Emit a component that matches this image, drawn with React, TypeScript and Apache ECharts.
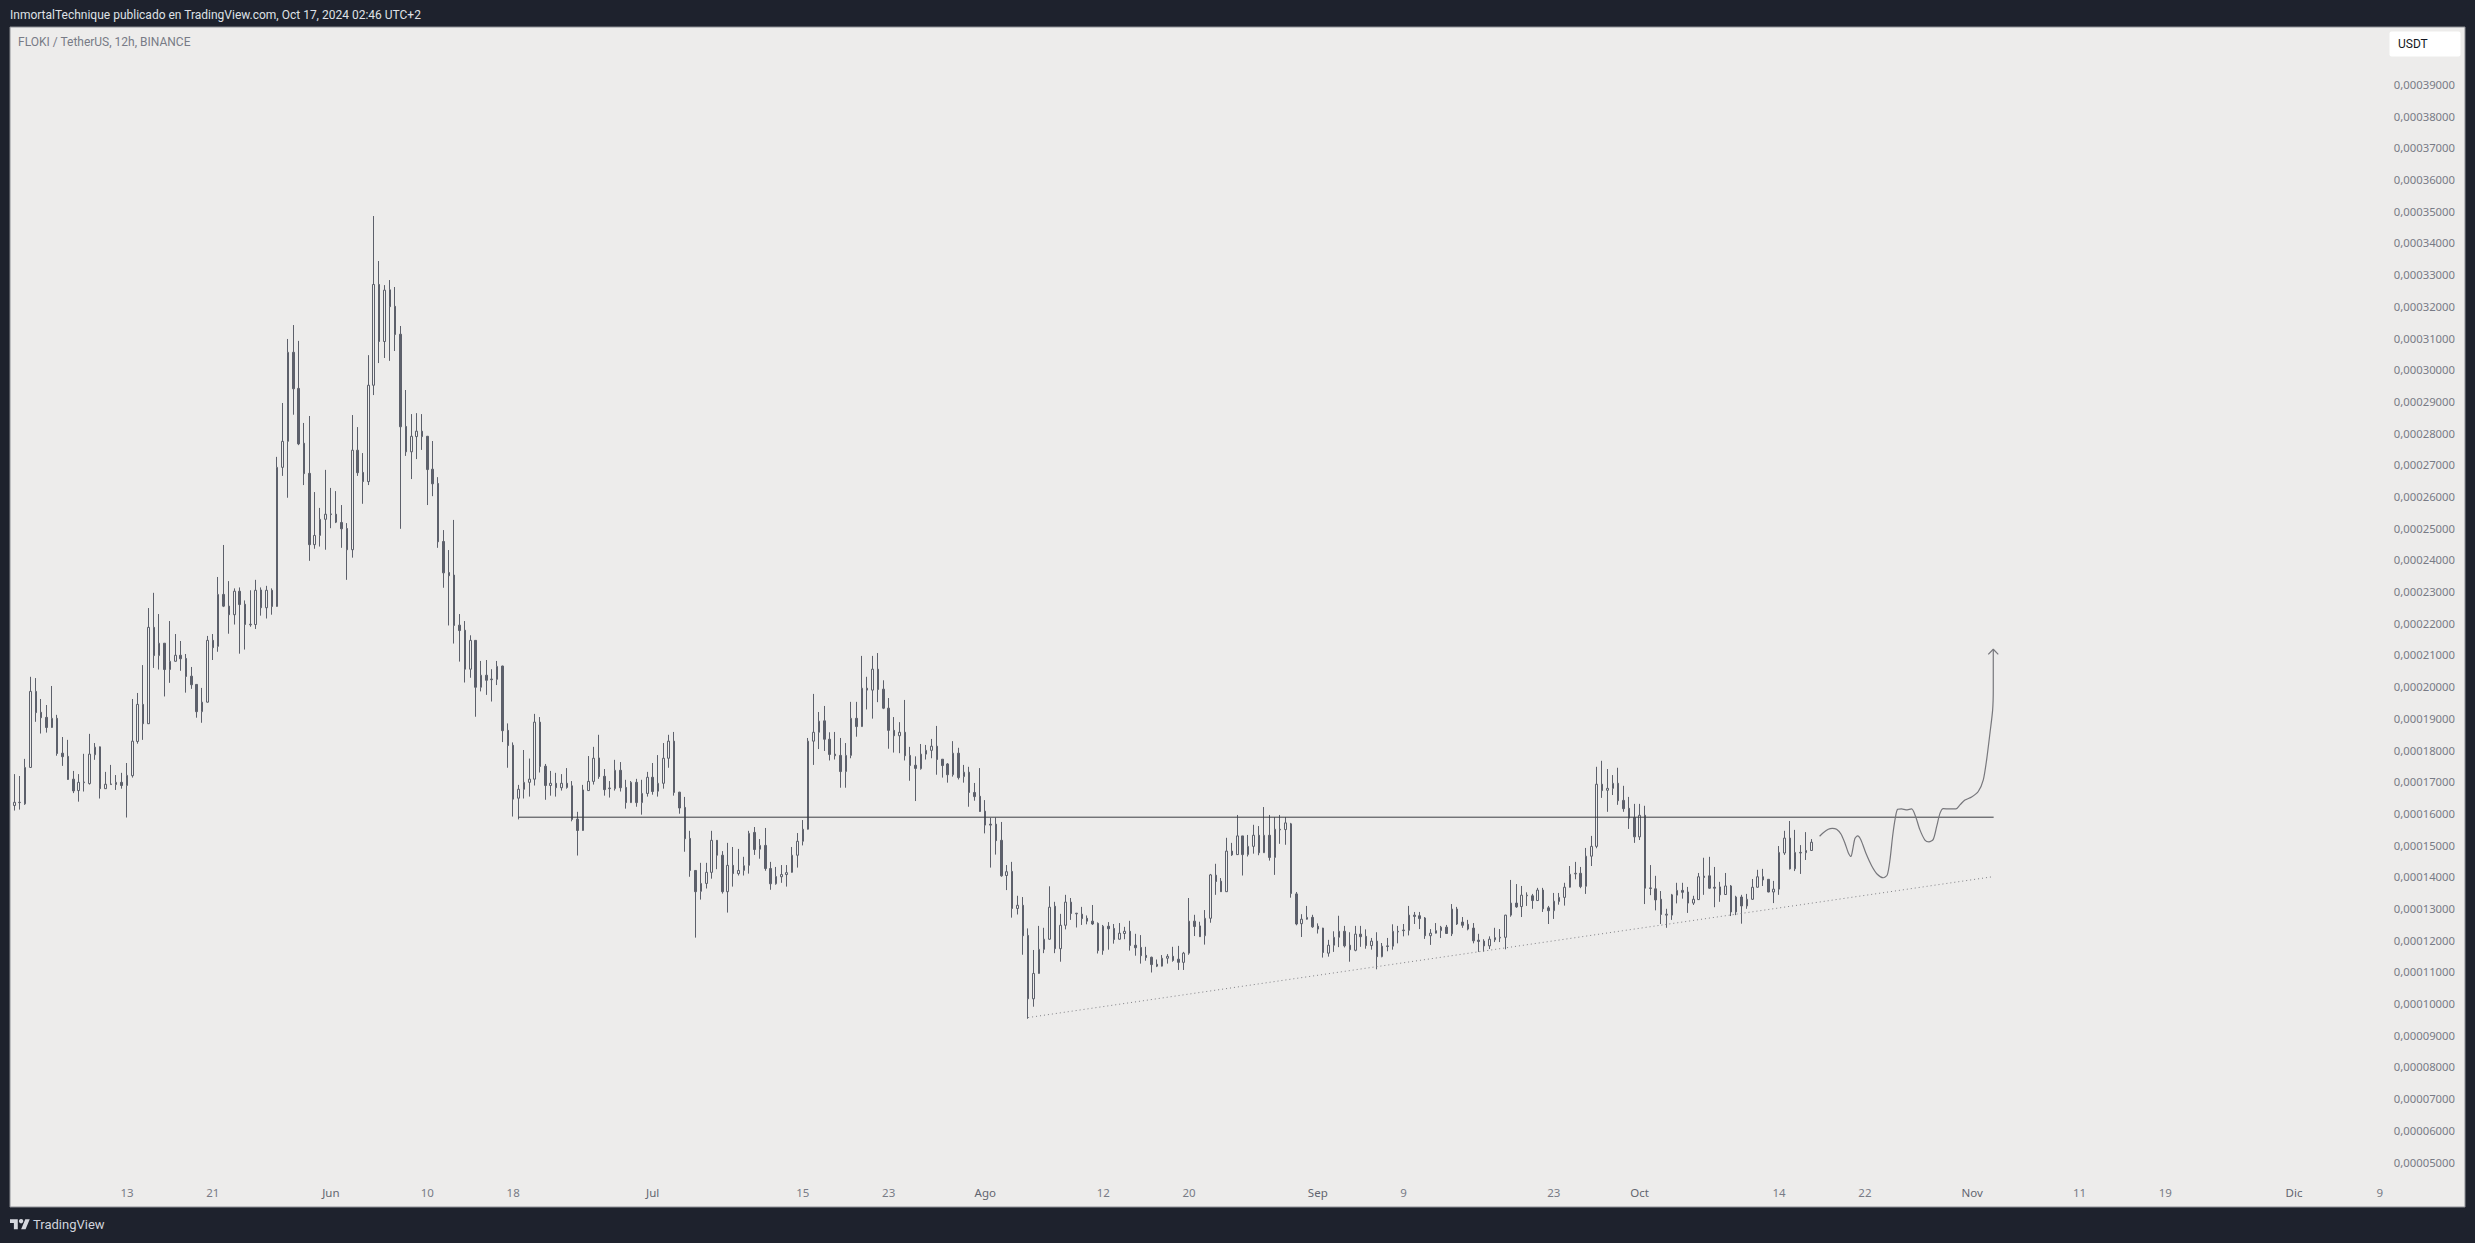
import React, { useEffect, useRef } from "react";
import * as echarts from "echarts";

// Prices are expressed in units of 0.00000001 USDT.
const highs = [
  17240,17180,17720,20310,20270,19610,19420,20020,19110,18410,
  18320,17340,17240,17880,18510,18220,18110,17310,17530,17210,
  17280,17590,19610,19800,20680,22480,22960,22290,21370,22070,
  21660,21440,21030,20620,20080,19960,21600,21660,23460,24470,
  23330,23100,23130,22720,23040,23370,23130,23180,23100,27250,
  28950,30970,31410,30910,28320,28540,26140,25640,26840,26270,
  26170,25730,25160,28570,28190,27370,30460,34850,33430,32670,
  32830,32610,31380,29360,28600,28630,28600,27910,27750,26610,
  24940,24310,25260,22290,22070,21620,21470,20810,20840,20550,
  20810,20660,18840,18240,16900,18000,17730,19140,19040,17560,
  17340,17280,17240,17430,17020,16050,16900,17810,18100,18480,
  17400,17020,17690,17620,17060,17020,17090,17060,17310,17590,
  17840,18220,18480,18570,16680,16520,15450,14210,14440,14440,
  15450,15160,14810,15070,14940,14880,14630,15450,15570,15190,
  15540,14470,14310,14370,14370,14940,15380,15790,18380,19770,
  19200,19390,18560,18570,18380,18220,19520,19520,20970,20310,
  20970,21060,20200,19640,19040,18880,19580,18100,17800,18190,
  18160,18350,18760,17710,17590,18280,18070,17530,17470,16960,
  17430,16420,15860,15870,15730,14370,14470,13400,13360,12370,
  11690,12450,12390,13700,13210,12830,13430,13330,12860,13050,
  12780,13110,12560,12480,12570,12510,12540,12420,12610,12200,
  12160,11790,11480,11390,11530,11560,11790,11820,11630,13330,
  12800,12580,12950,14090,14410,13960,15230,15070,15950,15290,
  15320,15640,15600,16200,15950,15880,15950,15880,15700,13520,
  12820,13080,12800,12530,12390,12010,12280,12770,12450,12250,
  12450,12450,12340,12070,12250,11910,12070,12500,12450,12510,
  13080,12890,12890,12730,12350,12540,12450,12480,13140,13050,
  12730,12640,12540,12200,12030,12120,12390,12350,12800,13900,
  13770,13710,13510,13460,13650,13650,13080,13490,13490,13810,
  14340,14470,14310,14910,15290,17470,17660,17400,17210,17440,
  16870,16520,16300,16300,16240,14370,14030,13550,12990,13460,
  13810,13810,13680,13400,14120,14600,14630,14310,13840,14120,
  13740,13400,13430,13460,13930,14220,14250,13930,13870,14970,
  15450,15760,15480,15000,15410,15190,
];

const bodyTops = [
  16350,16350,17450,19850,19850,19190,19030,19000,19000,17900,
  17800,17080,16980,16990,17870,18090,18100,16920,16930,16980,
  16980,17200,18280,19440,19440,21870,21870,21370,21370,20800,
  20990,20990,20890,20330,20070,19510,21460,21460,22910,22910,
  22540,23010,23010,22600,21970,23040,23050,23040,23040,26920,
  27740,30550,30550,29410,27680,26730,24770,25280,25440,25450,
  25440,25180,24990,27460,27460,26760,29510,32690,32690,32510,
  32520,32000,31120,28210,27900,28060,28060,27900,26860,26410,
  24580,23600,23520,21940,21780,21460,21460,20360,20360,20240,
  20640,20650,18620,18150,16760,16980,17080,18880,18880,17490,
  16950,16950,16950,16950,16870,15820,16740,17010,17740,17750,
  17170,16800,17360,17360,16820,16980,16980,16630,17140,17140,
  16950,17740,18280,18280,16670,16190,15210,14200,13790,14140,
  15150,15150,14680,14360,14360,14200,14350,15370,15400,14990,
  14990,14260,14010,14070,14130,14680,15120,15500,18280,18560,
  18910,18920,18340,17870,17830,17830,19000,19000,19950,19950,
  20550,20550,19920,19320,18620,18560,18560,17830,17520,17870,
  17990,18120,18120,17710,17560,17900,17900,17300,17300,16660,
  16540,16070,15660,15660,15150,14160,14170,13100,13100,12150,
  10950,11710,12030,13040,13070,12470,13200,13200,12850,12820,
  12690,12600,12530,12440,12440,12370,12220,12280,12280,11840,
  11770,11520,11460,11240,11430,11490,11490,11400,11590,12600,
  12600,12450,12690,14060,14050,13860,14810,14810,15290,15290,
  14960,15310,15310,15310,15310,15500,15500,15700,15670,13460,
  12660,12720,12720,12440,12380,11840,12090,12280,12280,11840,
  12190,12190,12120,11970,11970,11810,11820,12280,12280,12320,
  12790,12790,12770,12700,12220,12300,12410,12410,12980,12980,
  12570,12500,12380,12000,11970,12030,12080,12090,12790,13170,
  13170,13420,13420,13400,13580,13580,13020,13230,13350,13670,
  14080,14110,14110,14650,14960,16920,16920,16790,16950,16950,
  16410,16160,15870,15940,15940,13650,13620,13290,12820,13430,
  13570,13570,13520,13290,14000,14020,14030,13670,13680,13710,
  13710,13360,13360,13290,13670,14000,14000,13920,13610,14770,
  15220,15220,14770,14770,14830,15090,
];

const bodyBottoms = [
  16250,16340,16300,17450,19180,19020,18710,18710,17890,17790,
  17070,16710,16720,16970,16940,17850,16780,16780,16910,16910,
  16880,16880,17190,18270,18830,18830,20980,20980,20540,20540,
  20800,20880,20320,20060,19210,19210,19510,21230,21270,22540,
  22270,22270,22590,21960,21950,21960,22490,22490,22530,22530,
  26920,27740,29400,27660,26720,24480,24480,24770,25280,25430,
  25190,24980,24320,24320,26750,26470,26470,29510,30890,30890,
  31990,31110,28200,27410,27410,27890,27890,26850,26400,24570,
  23590,23500,21930,21770,20550,20550,19980,19980,20200,20220,
  20230,18610,18140,16450,16480,16760,16980,17080,17480,16880,
  16880,16810,16810,16820,15810,15460,15460,16720,17010,17160,
  16750,16780,16780,16810,16340,16340,16340,16340,16630,16690,
  16700,16950,17740,16660,16170,15200,14200,13530,13540,13790,
  14140,14680,13530,13530,14100,14100,14200,14360,14860,14870,
  14260,13780,13780,14000,14070,14140,14680,15120,15500,18280,
  18560,18340,17860,17820,17320,17320,17830,18740,18740,19890,
  19890,19910,19320,18620,18450,18450,17820,17510,17420,17410,
  17870,17990,17700,17510,17220,17220,17130,17160,16660,16530,
  16060,15630,15630,15140,14030,14040,13000,13000,12140,10150,
  10150,10950,11710,12030,11730,11730,12470,12840,12830,12680,
  12600,12510,11670,11670,12360,12020,12030,12210,11830,11760,
  11510,11450,11230,11180,11180,11430,11360,11300,11300,11590,
  12430,12110,12140,12690,13850,13530,13530,14690,14700,14700,
  14700,14960,14760,14760,14610,14610,15480,15490,13470,12510,
  12520,12660,12420,12350,11610,11590,11840,12090,11820,11700,
  11680,12110,11830,11830,11480,11480,11800,11810,12260,12300,
  12310,12750,12680,12140,12140,12220,12300,12210,12200,12510,
  12470,12350,11980,11960,11820,11820,12010,12070,12090,12790,
  13050,13060,13400,13250,13250,12990,12930,12930,13220,13350,
  13670,14090,13690,13700,14650,14960,16720,16730,16790,16400,
  16150,15850,15260,15260,13640,13630,13270,12810,12790,12790,
  13420,13510,13170,13170,13280,13980,13640,13640,13430,13440,
  12890,12890,13080,13080,13290,13670,13900,13520,13520,13610,
  14750,14250,14250,14750,14760,14830,
];

const lows = [
  16090,16120,16270,17440,18890,18520,18550,18700,17820,17500,
  17060,16640,16370,16690,16910,17690,16470,16770,16910,16740,
  16780,15870,17130,18200,18320,18820,20590,20540,19690,20120,
  20790,20500,19810,19930,19020,18860,19500,20840,21100,22510,
  21670,21960,21040,21170,21890,21820,22240,22150,22270,22520,
  26650,25960,28580,27620,26360,23970,24350,24420,24320,25000,
  25160,24380,23370,24070,26650,25770,26360,29200,30210,30370,
  30280,30590,24980,27280,26550,27180,27470,25730,26010,24380,
  23120,21930,21360,20790,20130,20280,19050,19850,19740,19530,
  20050,18250,17440,15900,15810,16470,16530,16880,17290,16430,
  16560,16530,16720,16780,15750,14670,15450,16710,16910,17090,
  16560,16500,16720,16690,16150,16330,16210,15960,16530,16590,
  16530,16780,17440,16560,15990,14790,14000,12080,13280,13630,
  13940,14240,13470,12870,13690,14040,14040,14100,14690,14570,
  14190,13590,13750,13810,13690,14130,14290,14990,15490,17530,
  18030,17970,17670,17700,16810,16810,17740,18420,18730,19280,
  18990,19510,19290,18040,17920,17900,17670,17030,16390,17380,
  17700,17740,17220,17130,16970,17160,17070,16970,16210,16400,
  16050,15370,14290,14700,14000,13580,12710,12810,11540,9520,
  9900,10940,11590,12010,11590,11320,12340,12640,12400,12480,
  12500,12480,11580,11540,11700,11890,12020,12030,11670,11510,
  11260,11350,10980,11150,11170,11260,11320,11060,11060,11540,
  12130,12100,11860,12550,13430,13520,13520,14660,14690,14040,
  14640,14730,14680,14750,14510,14060,15040,15010,13340,12470,
  12100,12650,12390,12210,11450,11480,11630,11780,11770,11320,
  11650,11790,11730,11700,11080,11460,11650,11700,11900,12120,
  12150,12510,12350,12040,11850,12210,12070,12200,12130,12480,
  12390,12310,11900,11630,11640,11720,11940,11940,11710,12740,
  13020,12730,13080,12990,13240,12890,12510,12670,13120,13090,
  13660,13920,13640,13460,14340,14900,16490,16050,16580,16270,
  16050,15510,15070,15160,13140,13420,12940,12510,12390,12640,
  13160,13310,12860,13110,13270,13430,13620,13040,13210,13430,
  12760,12790,12520,12990,13270,13660,13710,13510,13170,13430,
  14690,14230,14180,14090,14530,14820,
];

// U = rising (hollow) candle, D = falling (filled) candle.
const candleDirections = [
  "UUUUDDDUDD","DDUUUUDUUU","DUUUDUDUDU","UDDDDUUDUD","DUDDUUDUDU",
  "UUDDDDUUUU","DDDUDDUUDU","DDDDUUDDDD","DDDDDUDUDU","UDDDUUUUDD",
  "UDUDDDUUUD","DUUDDUDUUD","UUUDDDDDUU","UDDUDUUUDU","DDUUUUUUUU",
  "UDDDDUUDUD","UDDDDUDDDU","UUDDDUDUDD","DDDDDUDUDD","UUUUDUUDUD",
  "DDDUDDUUDD","DDDDUUDDUU","DDUUDDUDUD","UUDUDUUUDD","UUDDDUUUDD",
  "UDDUDUUUUU","UDDDUUUDUD","DDDDDUUUUU","DUUDUDDUUU","UUDUUUDUUD",
  "DDDUDUDDUU","UDDUUDDDDU","DUDUUUDDUU","UDUUUU",
];

const forecastBarIndex = [
  336.55,337.24,338.17,338.92,339.72,340.53,341.28,341.9,342.4,342.71,343.14,343.64,344.26,345.19,346.25,
  347.3,348.42,349.17,349.67,350.16,350.66,351.1,351.84,352.65,353.71,354.45,355.26,356.19,356.94,357.74,
  358.37,358.99,359.61,360.85,361.97,362.72,363.65,364.89,366.13,367.07,367.69,368.31,368.81,368.93,368.93,
];
const forecastPrice = [
  15280,15390,15500,15530,15500,15350,15060,14760,14640,14850,15210,15290,15160,14740,14350,
  14080,13970,14060,14530,15270,15850,16130,16140,16110,16140,15900,15480,15160,15100,15180,
  15580,16000,16150,16140,16140,16270,16420,16520,16690,17060,17690,18530,19260,19900,21160,
];
const arrowBarIndex = [368.0, 368.93, 369.86];
const arrowPrice = [21020, 21180, 21020];

const resistanceBarIndex = [94, 369];
const resistancePrice = [15880, 15880];
const supportBarIndex = [189, 369];
const supportPrice = [9558, 14006];

const tickDays = [
  "2024-05-13","2024-05-21","2024-06-01","2024-06-10","2024-06-18","2024-07-01","2024-07-15","2024-07-23",
  "2024-08-01","2024-08-12","2024-08-20","2024-09-01","2024-09-09","2024-09-23","2024-10-01","2024-10-14",
  "2024-10-22","2024-11-01","2024-11-11","2024-11-19","2024-12-01","2024-12-09",
];
const tickLabels = [
  "13","21","Jun","10","18","Jul","15","23","Ago","12","20","Sep","9","23","Oct","14","22","Nov","11","19","Dic","9",
];
const monthLabels = ["Jun","Jul","Ago","Sep","Oct","Nov","Dic"];

const TITLE = "InmortalTechnique publicado en TradingView.com, Oct 17, 2024 02:46 UTC+2";
const LEGEND = "FLOKI / TetherUS, 12h, BINANCE";

const TOTAL_BARS = 457;
const BAR_STEP = 5.364;
const GRID_LEFT = 11.65;
const CANDLE = "#5d606b";
const PANEL = "#edeceb";
const DARK = "#1e222d";
const AXIS_TEXT = "#787b86";
const FONT = "Roboto";
const AXIS_FONT = "'Noto Sans'";

const makeCategories = () => {
  const out: string[] = [];
  const start = Date.UTC(2024, 4, 2, 12);
  for (let i = 0; i < TOTAL_BARS; i++) {
    out.push(new Date(start + i * 43200000).toISOString().slice(0, 13));
  }
  return out;
};

const directions = candleDirections.join("");

export default function App() {
  const ref = useRef<HTMLDivElement>(null);
  useEffect(() => {
    if (!ref.current) return;
    echarts.graphic.registerShape(
      "tvLogo",
      echarts.graphic.extendPath("M14 22H7V11H0V4h14v18zM28 22h-8l7.5-18h8L28 22z", {}) as any
    );
    const chart = echarts.init(ref.current, undefined, { renderer: "svg" });
    const categories = makeCategories();
    const tickMap = new Map<string, string>();
    tickDays.forEach((d, i) => tickMap.set(d + "T00", tickLabels[i]));
    const candles = highs.map((h, i) =>
      directions[i] === "D"
        ? [bodyTops[i], bodyBottoms[i], lows[i], h]
        : [bodyBottoms[i], bodyTops[i], lows[i], h]
    );
    const pairs = (xs: number[], ys: number[]) => xs.map((x, i) => [x, ys[i]]);
    const overlay = (data: number[][], color: string, width: number, type: any, smooth = false) => ({
      type: "line",
      xAxisIndex: 1,
      yAxisIndex: 0,
      data,
      smooth: smooth ? 0.25 : false,
      symbol: "none",
      silent: true,
      z: 5,
      lineStyle: { color, width, type },
    });
    chart.setOption({
      animation: false,
      backgroundColor: DARK,
      textStyle: { fontFamily: FONT },
      tooltip: { show: false },
      grid: { left: GRID_LEFT, top: 84.5, width: TOTAL_BARS * BAR_STEP, height: 1077.5, containLabel: false },
      xAxis: [
        {
          type: "category",
          data: categories,
          boundaryGap: true,
          axisLine: { show: false },
          axisTick: { show: false },
          splitLine: { show: false },
          axisLabel: {
            interval: (_: number, v: string) => tickMap.has(v),
            formatter: (v: string) => {
              const t = tickMap.get(v) ?? "";
              return monthLabels.includes(t) ? `{m|${t}}` : t;
            },
            color: AXIS_TEXT,
            fontFamily: AXIS_FONT,
            fontSize: 11.5,
            margin: 24,
            rich: { m: { color: "#62656f", fontFamily: AXIS_FONT, fontSize: 11.5 } },
          },
        },
        { type: "value", min: -0.5, max: TOTAL_BARS - 0.5, show: false },
      ],
      yAxis: {
        type: "value",
        min: 5000,
        max: 39000,
        interval: 1000,
        position: "right",
        scale: true,
        axisLine: { show: false },
        axisTick: { show: false },
        splitLine: { show: false },
        axisLabel: {
          inside: true,
          margin: 8,
          color: AXIS_TEXT,
          fontFamily: AXIS_FONT,
          fontSize: 11.3,
          formatter: (v: number) => (v / 1e8).toFixed(8).replace(".", ","),
        },
      },
      series: [
        {
          type: "candlestick",
          xAxisIndex: 0,
          yAxisIndex: 0,
          data: candles,
          barWidth: 2,
          large: false,
          silent: true,
          z: 3,
          itemStyle: {
            color: PANEL,
            color0: CANDLE,
            borderColor: CANDLE,
            borderColor0: CANDLE,
            borderColorDoji: CANDLE,
            borderWidth: 1,
          },
        },
        overlay(pairs(resistanceBarIndex, resistancePrice), "#3c3d43", 1, "solid"),
        overlay(pairs(supportBarIndex, supportPrice), "#808085", 1, [1, 3]),
        overlay(pairs(forecastBarIndex, forecastPrice), "#77777c", 1.2, "solid", true),
        overlay(pairs(arrowBarIndex, arrowPrice), "#77777c", 1.2, "solid"),
      ],
      graphic: [
        { type: "rect", z: -1, silent: true, shape: { x: 10, y: 27, width: 2455, height: 1180 }, style: { fill: PANEL, stroke: "#8d8f95", lineWidth: 1 } },
        { type: "text", silent: true, x: 10, y: 15, style: { text: TITLE, fill: "#dfe1e6", font: `12px ${FONT}`, textVerticalAlign: "middle" } },
        { type: "text", silent: true, x: 18, y: 42, style: { text: LEGEND, fill: AXIS_TEXT, font: `12px ${FONT}`, textVerticalAlign: "middle" } },
        { type: "rect", silent: true, z: 6, shape: { x: 2389.5, y: 31.5, width: 71, height: 25, r: 2 }, style: { fill: "#ffffff" } },
        { type: "text", silent: true, z: 7, x: 2398, y: 44, style: { text: "USDT", fill: "#131722", font: `12px ${FONT}`, textVerticalAlign: "middle" } },
        { type: "tvLogo", silent: true, x: 10, y: 1217, scaleX: 0.556, scaleY: 0.556, style: { fill: "#d6d8de" } },
        { type: "circle", silent: true, shape: { cx: 21.1, cy: 1221.2, r: 2.2 }, style: { fill: "#d6d8de" } },
        { type: "text", silent: true, x: 33, y: 1224.5, style: { text: "TradingView", fill: "#d1d4dc", font: `13px ${FONT}`, textVerticalAlign: "middle" } },
      ],
    });
    return () => chart.dispose();
  }, []);
  return <div ref={ref} style={{ position: "absolute", left: 0, top: 0, width: 2475, height: 1243 }} />;
}
